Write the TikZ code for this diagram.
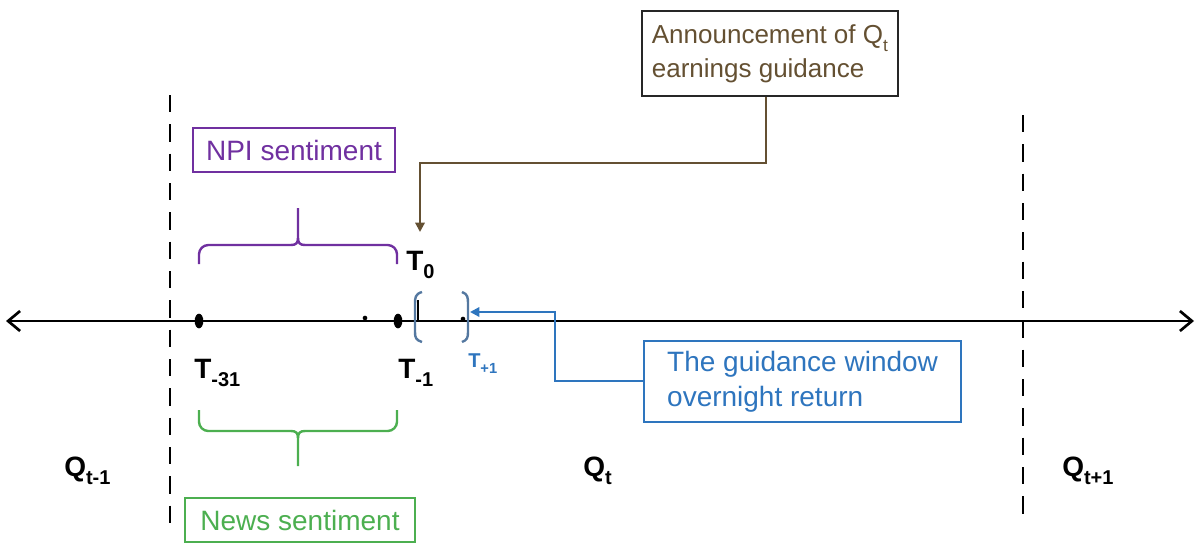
\documentclass[tikz,border=0pt]{standalone}
\usepackage{fontspec}
\setmainfont{Liberation Sans}
\usetikzlibrary{arrows.meta,shapes.geometric}
\definecolor{npi}{RGB}{112,48,160}
\definecolor{news}{RGB}{76,175,80}
\definecolor{ann}{RGB}{100,80,50}
\definecolor{gw}{RGB}{46,117,190}
\definecolor{win}{RGB}{84,120,160}
\newcommand\subs[2][15]{\raisebox{-0.32em}{\fontsize{#1}{#1}\selectfont #2}}
\tikzset{
  lbl/.style={font=\fontsize{21}{24}\selectfont\bfseries, inner sep=0pt},
  boxtxt/.style={draw, line width=1.4pt, align=left, inner xsep=8pt, inner ysep=4pt,
     font=\fontsize{21}{26}\selectfont},
  dashv/.style={line width=1.8pt, dash pattern=on 13pt off 9pt},
  bigdot/.style={ellipse, fill=black, minimum width=6.5pt, minimum height=11pt, inner sep=0pt},
  smalldot/.style={circle, fill=black, minimum size=3.5pt, inner sep=0pt},
  brc/.style={line width=1.8pt},
}
\begin{document}
\begin{tikzpicture}[x=0.75pt,y=-0.75pt]
\useasboundingbox (0,0) rectangle (1196,547);
% axis
\coordinate (axl) at (6,321);
\coordinate (axr) at (1194,321);
\draw[line width=2pt, {Straight Barb[length=9pt,width=15pt,line width=2pt]}-{Straight Barb[length=9pt,width=15pt,line width=2pt]}] (axl) -- (axr);
% dashed quarter separators
\coordinate (d1t) at (170,95); \coordinate (d1b) at (170,527);
\coordinate (d2t) at (1023,115); \coordinate (d2b) at (1023,524);
\draw[dashv] (d1t) -- (d1b);
\draw[dashv] (d2t) -- (d2b);
% dots
\node[bigdot] (t31) at (199,321) {};
\node[bigdot] (tm1) at (398,321) {};
\node[smalldot] (sd) at (365,318) {};
\node[smalldot] (tp1) at (463,319) {};
% window brackets
\draw[win, brc] (422,292) .. controls (415,294) and (415,298) .. (415,304) -- (415,332) .. controls (415,338) and (416,340) .. (422,342);
\draw[win, brc] (462,292) .. controls (468,294) and (468,298) .. (468,304) -- (468,332) .. controls (468,338) and (467,340) .. (462,342);
\coordinate (tick) at (418,300);
\coordinate (tickb) at (418,321);
\draw[line width=1.4pt] (tick) -- (tickb);
% labels
\node[lbl, anchor=base west] (lT0) at (406,270) {T\subs{0}};
\node[lbl, anchor=base west] (lT31) at (194,378) {T\subs{-31}};
\node[lbl, anchor=base west] (lTm1) at (398,378) {T\subs{-1}};
\node[font=\fontsize{15}{16}\selectfont\bfseries, text=gw, anchor=base west, inner sep=0pt] (lTp1) at (468,367) {T\subs[11]{+1}};
\node[lbl, anchor=base west] (q1) at (64,476) {Q\subs{t-1}};
\node[lbl, anchor=base west] (q2) at (583,476) {Q\subs{t}};
\node[lbl, anchor=base west] (q3) at (1062,476) {Q\subs{t+1}};
% purple brace
\draw[npi, brc, rounded corners=7pt] (199,264) -- (199,245) -- (291,245);
\draw[npi, brc, rounded corners=7pt] (397,264) -- (397,245) -- (305,245);
\draw[npi, brc] (291,245) .. controls (296,245) and (298,243) .. (298,238) -- (298,208);
\draw[npi, brc] (305,245) .. controls (300,245) and (298,243) .. (298,238);
\node[boxtxt, draw=npi, text=npi, minimum width=151pt, minimum height=33pt, align=center] (npi) at (294,150) {NPI sentiment};
% green brace
\draw[news, brc, rounded corners=7pt] (199,410) -- (199,431) -- (291,431);
\draw[news, brc, rounded corners=7pt] (397,410) -- (397,431) -- (305,431);
\draw[news, brc] (291,431) .. controls (296,431) and (298,433) .. (298,438) -- (298,466);
\draw[news, brc] (305,431) .. controls (300,431) and (298,433) .. (298,438);
\node[boxtxt, draw=news, text=news, minimum width=172pt, minimum height=33pt, align=center] (news) at (300,520) {News sentiment};
% announcement box
\node[boxtxt, draw=black!85, text=ann, anchor=north west, minimum width=192pt, minimum height=64pt, inner xsep=7pt, inner ysep=3pt, font=\fontsize{19.5}{25.5}\selectfont] (ann) at (641,10) {Announcement of Q\subs[13]{t}\\earnings guidance};
\coordinate (annb) at (766,163);
\coordinate (annc) at (420,163);
\coordinate (annt) at (420,232);
\draw[ann, line width=1.6pt, -{Triangle[length=7pt,width=7pt]}] (ann.south -| annb) -- (annb) -- (annc) -- (annt);
% guidance window box
\node[boxtxt, draw=gw, text=gw, anchor=north west, minimum width=238pt, minimum height=61pt] (gw) at (643,340) {The guidance window\\overnight return};
\coordinate (gwa) at (555,381);
\coordinate (gwb) at (555,312);
\coordinate (gwc) at (470,312);
\draw[gw, line width=1.6pt, -{Triangle[length=7pt,width=7pt]}] (gw.west |- gwa) -- (gwa) -- (gwb) -- (gwc);
\end{tikzpicture}
\end{document}
